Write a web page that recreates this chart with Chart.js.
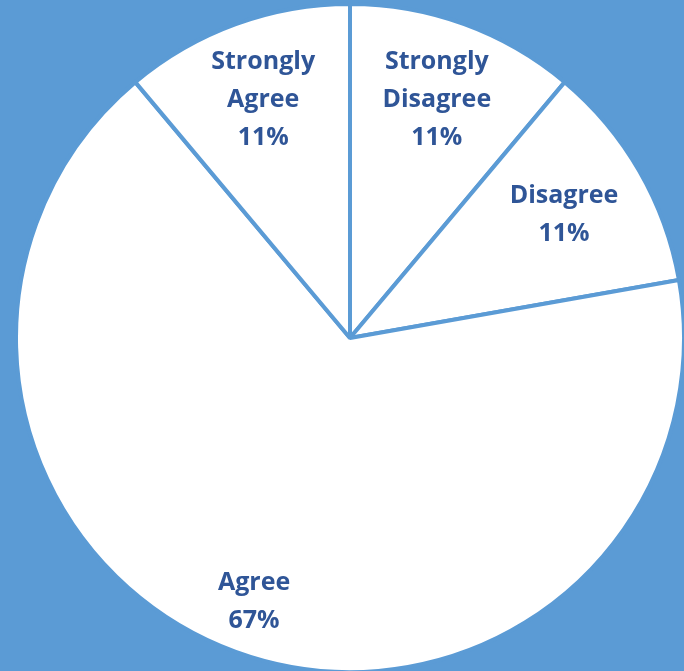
<!DOCTYPE html>
<html lang="en">
<head>
    <meta charset="UTF-8">
    <title>Survey Responses</title>
    <script src="https://cdn.jsdelivr.net/npm/chart.js"></script>
    <style>
        body {
            margin: 0;
            padding: 0;
            background: #5B9BD5;
            overflow: hidden;
        }
        canvas { display: block; }
    </style>
</head>
<body>
    <canvas id="pieChart" width="684" height="671"></canvas>

    <script>
        // responses, clockwise from 12 o'clock
        const categories = ["Strongly Disagree", "Disagree", "Agree", "Strongly Agree"];
        const labelLines = [["Strongly", "Disagree"], ["Disagree"], ["Agree"], ["Strongly", "Agree"]];
        const counts = [1, 1, 6, 1];
        const percentLabels = ["11%", "11%", "67%", "11%"];

        // how far out along the slice each label sits (fraction of radius)
        const labelRadius = [0.76, 0.74, 0.84, 0.76];

        const sliceLabels = {
            id: 'sliceLabels',
            afterDatasetsDraw(chart) {
                const ctx = chart.ctx;
                const meta = chart.getDatasetMeta(0);
                ctx.save();
                ctx.fillStyle = '#2F5597';
                ctx.font = "bold 25px 'Open Sans', sans-serif";
                ctx.textAlign = 'center';
                ctx.textBaseline = 'middle';
                const lineH = 38;
                meta.data.forEach((arc, i) => {
                    const p = arc.getProps(['x', 'y', 'startAngle', 'endAngle', 'outerRadius'], true);
                    const mid = (p.startAngle + p.endAngle) / 2;
                    const r = p.outerRadius * labelRadius[i];
                    const cx = p.x + Math.cos(mid) * r;
                    const cy = p.y + Math.sin(mid) * r;
                    const lines = labelLines[i].concat([percentLabels[i]]);
                    const top = cy - (lines.length - 1) * lineH / 2;
                    lines.forEach((t, k) => ctx.fillText(t, cx, top + k * lineH));
                });
                ctx.restore();
            }
        };

        new Chart(document.getElementById('pieChart'), {
            type: 'pie',
            data: {
                labels: categories,
                datasets: [{
                    data: counts,
                    backgroundColor: '#FFFFFF',
                    borderColor: '#5B9BD5',
                    borderWidth: 4
                }]
            },
            options: {
                responsive: false,
                animation: false,
                radius: 334,
                layout: { padding: { left: 16, right: 0, top: 5, bottom: 0 } },
                plugins: {
                    legend: { display: false },
                    tooltip: { enabled: false }
                }
            },
            plugins: [sliceLabels]
        });
    </script>
</body>
</html>
